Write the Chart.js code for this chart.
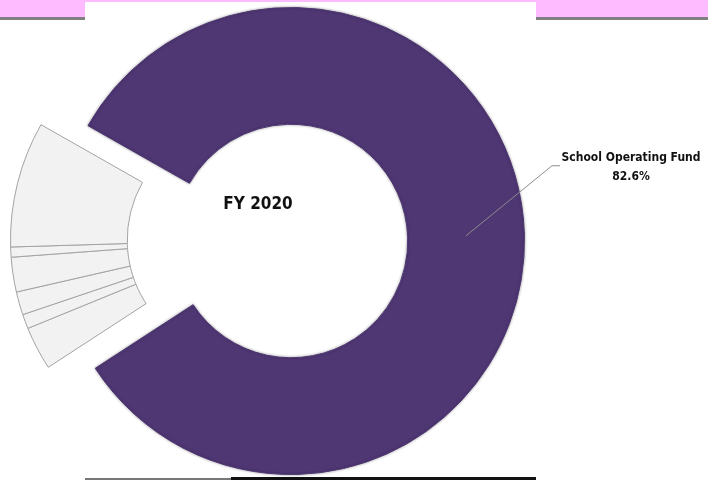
<!DOCTYPE html>
<html>
<head>
<meta charset="utf-8">
<script src="https://cdn.jsdelivr.net/npm/chart.js@4/dist/chart.umd.min.js"></script>
<style>
  html, body { margin: 0; padding: 0; background: #fff; }
  #stage { position: relative; width: 708px; height: 482px; overflow: hidden; background: #fff; }
  .band { position: absolute; left: 0; top: 0; width: 708px; height: 17px; background: #ffbbff; }
  .band-line { position: absolute; left: 0; top: 17px; width: 708px; height: 3px; background: #808080; }
  .panel { position: absolute; left: 85px; top: 2px; width: 451px; height: 20px; background: #fff; }
  .foot-grey { position: absolute; left: 85px; top: 478px; width: 146px; height: 2px; background: #777; }
  .foot-black { position: absolute; left: 231px; top: 477px; width: 305px; height: 3px; background: #111; }
  canvas { position: absolute; left: 0; top: 0; }
</style>
</head>
<body>
<div id="stage">
  <div class="band"></div>
  <div class="band-line"></div>
  <div class="panel"></div>
  <div class="foot-grey"></div>
  <div class="foot-black"></div>
  <canvas id="main" width="708" height="482"></canvas>
  <canvas id="others" width="708" height="482"></canvas>
</div>
<script>
// FY 2020 fund shares (percent). Only the largest one is labelled in the source.
const title = 'FY 2020';
const fundLabels = ['School Operating Fund', 'Other fund 1', 'Other fund 2', 'Other fund 3', 'Other fund 4', 'Other fund 5', 'Other fund 6'];
const fundShares = [82.6, 3.0, 1.0, 1.6, 2.4, 0.7, 8.7];

const PURPLE = '#4f3774';
const GREY = '#f2f2f2';
const GREY_EDGE = '#a3a3a3';
const FONT = '"DejaVu Sans Condensed", "DejaVu Sans", sans-serif';

// purple slice first, small funds get pulled out as one block to the left
const mainColors = fundShares.map((v, i) => i === 0 ? PURPLE : 'rgba(0,0,0,0)');
const otherColors = fundShares.map((v, i) => i === 0 ? 'rgba(0,0,0,0)' : GREY);
const otherEdges = fundShares.map((v, i) => i === 0 ? 'rgba(0,0,0,0)' : GREY_EDGE);

const ROTATION = -60.4;

// soft shadow under the big slice, like the slide export
const shadowPlugin = {
  id: 'shadow',
  beforeDatasetsDraw(chart) {
    const ctx = chart.ctx;
    ctx.save();
    ctx.shadowColor = 'rgba(0,0,0,0.35)';
    ctx.shadowBlur = 3;
  },
  afterDatasetsDraw(chart) { chart.ctx.restore(); }
};

// leader line + label for the big slice, and the title text
const labelPlugin = {
  id: 'leader',
  afterDraw(chart) {
    const ctx = chart.ctx;
    const arc = chart.getDatasetMeta(0).data[0];
    const p = arc.tooltipPosition();
    const cx = arc.x, cy = arc.y;
    const elbowX = p.x + 86, elbowY = p.y - 70;
    ctx.save();
    ctx.strokeStyle = '#8c8c8c';
    ctx.lineWidth = 1;
    ctx.beginPath();
    ctx.moveTo(p.x, p.y);
    ctx.lineTo(elbowX, elbowY);
    ctx.lineTo(elbowX + 8, elbowY);
    ctx.stroke();

    ctx.fillStyle = '#111';
    ctx.textAlign = 'center';
    ctx.textBaseline = 'middle';
    ctx.font = 'bold 12px ' + FONT;
    const tx = elbowX + 79;
    ctx.fillText(fundLabels[0], tx, elbowY - 8);
    ctx.fillText(fundShares[0].toFixed(1) + '%', tx, elbowY + 11);

    ctx.font = 'bold 17px ' + FONT;
    ctx.fillText(title, cx - 33, cy - 36);
    ctx.restore();
  }
};

function baseOptions(padding) {
  return {
    responsive: false,
    animation: false,
    cutout: '50%',
    rotation: ROTATION,
    layout: { padding },
    plugins: { legend: { display: false }, tooltip: { enabled: false } }
  };
}

new Chart(document.getElementById('main'), {
  type: 'doughnut',
  data: {
    labels: fundLabels,
    datasets: [{ data: fundShares, backgroundColor: mainColors, borderColor: mainColors, borderWidth: 1 }]
  },
  options: baseOptions({ left: 57, top: 7, right: 183, bottom: 7 }),
  plugins: [shadowPlugin, labelPlugin]
});

// same ring, shifted left, showing only the small funds
new Chart(document.getElementById('others'), {
  type: 'doughnut',
  data: {
    labels: fundLabels,
    datasets: [{ data: fundShares, backgroundColor: otherColors, borderColor: otherEdges, borderWidth: 1 }]
  },
  options: baseOptions({ left: 10, top: 6, right: 230, bottom: 8 })
});
</script>
</body>
</html>
